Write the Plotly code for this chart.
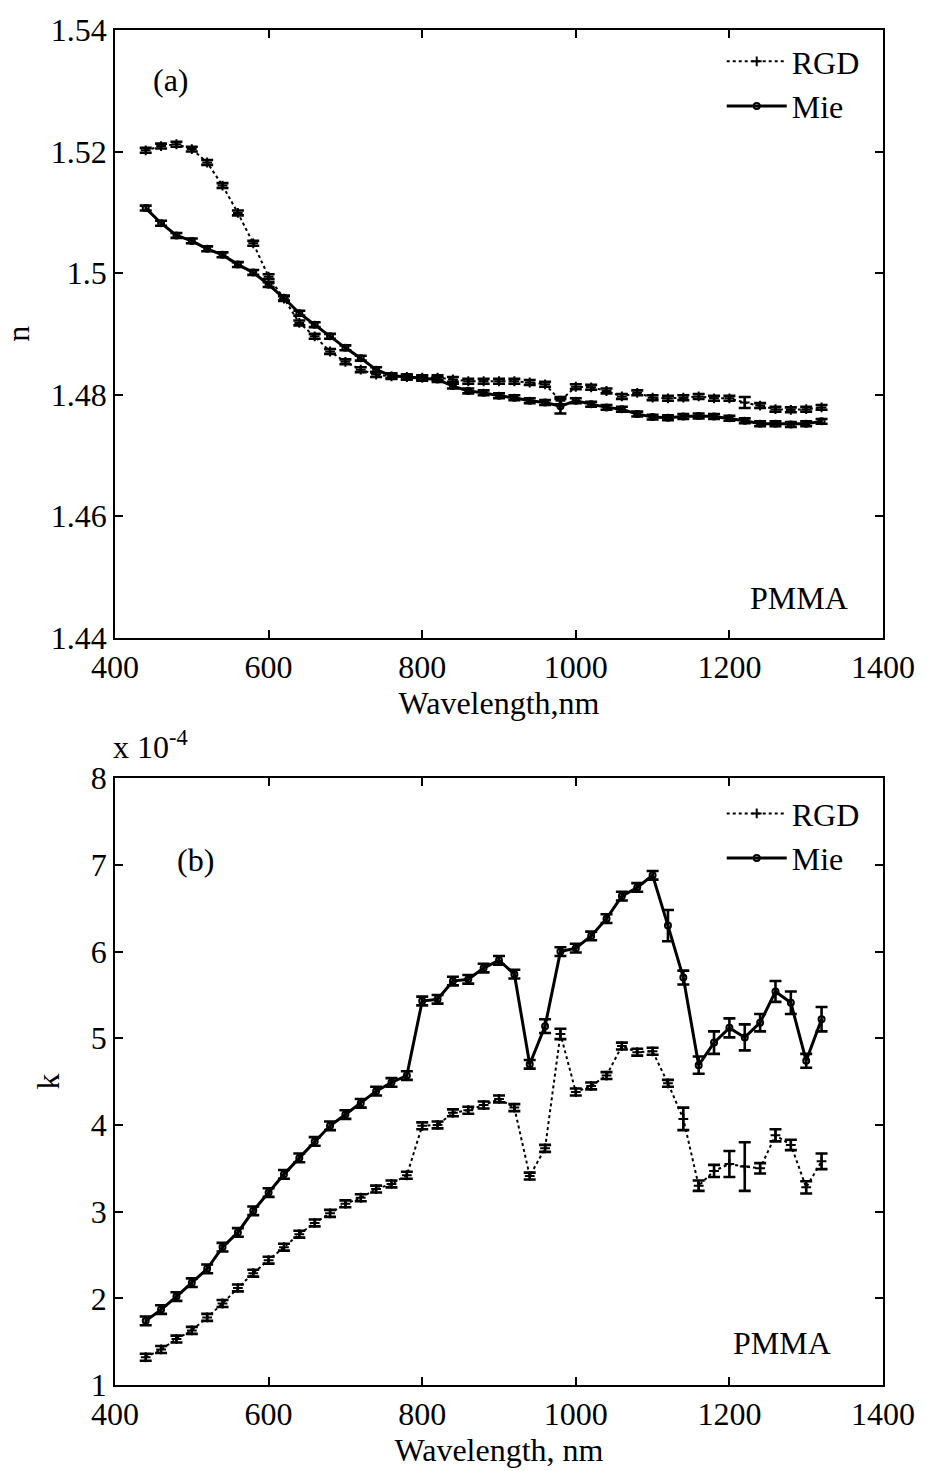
import plotly.graph_objects as go

wavelength = [440, 460, 480, 500, 520, 540, 560, 580, 600, 620, 640, 660, 680, 700, 720,
              740, 760, 780, 800, 820, 840, 860, 880, 900, 920, 940, 960, 980, 1000, 1020,
              1040, 1060, 1080, 1100, 1120, 1140, 1160, 1180, 1200, 1220, 1240, 1260, 1280, 1300, 1320]

n_rgd = [1.5202, 1.5209, 1.5212, 1.5204, 1.5182, 1.5144, 1.5099, 1.5049, 1.4994, 1.4958,
         1.4918, 1.4896, 1.4871, 1.4854, 1.4841, 1.4833, 1.4830, 1.4829, 1.4828, 1.4828,
         1.4825, 1.4822, 1.4822, 1.4822, 1.4822, 1.4820, 1.4817, 1.4790, 1.4813, 1.4812,
         1.4806, 1.4797, 1.4803, 1.4795, 1.4794, 1.4795, 1.4797, 1.4794, 1.4794, 1.4787,
         1.4782, 1.4776, 1.4775, 1.4776, 1.4779]
n_rgd_err = [0.0004] * 27 + [0.0006] + [0.0004] * 11 + [0.0009] + [0.0004] * 5

n_mie = [1.5107, 1.5082, 1.5062, 1.5053, 1.5040, 1.5030, 1.5014, 1.5001, 1.4981, 1.4959,
         1.4934, 1.4915, 1.4896, 1.4877, 1.4860, 1.4841, 1.4831, 1.4829, 1.4827, 1.4825,
         1.4814, 1.4806, 1.4803, 1.4798, 1.4795, 1.4790, 1.4787, 1.4781, 1.4790, 1.4784,
         1.4779, 1.4776, 1.4768, 1.4763, 1.4762, 1.4764, 1.4765, 1.4764, 1.4761, 1.4757,
         1.4752, 1.4752, 1.4751, 1.4752, 1.4756]
n_mie_err = [0.0004] * 27 + [0.0012] + [0.0004] * 17

k_rgd = [1.32, 1.41, 1.53, 1.63, 1.78, 1.94, 2.12, 2.29, 2.44, 2.59,
         2.74, 2.87, 2.98, 3.09, 3.16, 3.26, 3.32, 3.42, 3.99, 4.00,
         4.14, 4.17, 4.23, 4.30, 4.20, 3.41, 3.73, 5.05, 4.38, 4.45,
         4.57, 4.91, 4.84, 4.85, 4.48, 4.07, 3.30, 3.47, 3.55, 3.52,
         3.50, 3.88, 3.77, 3.28, 3.58]
k_rgd_err = [0.04] * 27 + [0.06] + [0.04] * 7 + [0.13, 0.06, 0.07, 0.15, 0.28, 0.06, 0.07, 0.06, 0.07, 0.09]

k_mie = [1.74, 1.87, 2.02, 2.18, 2.34, 2.59, 2.76, 3.01, 3.22, 3.43,
         3.62, 3.81, 3.99, 4.12, 4.25, 4.39, 4.49, 4.57, 5.43, 5.45,
         5.66, 5.68, 5.81, 5.90, 5.74, 4.70, 5.14, 6.00, 6.04, 6.18,
         6.38, 6.64, 6.74, 6.88, 6.30, 5.70, 4.69, 4.95, 5.12, 5.01,
         5.18, 5.54, 5.41, 4.74, 5.22]
k_mie_err = [0.05] * 26 + [0.08] + [0.05] * 7 + [0.18, 0.08, 0.10, 0.13, 0.11, 0.15, 0.10, 0.12, 0.13, 0.08, 0.14]

x_ticks = [400, 600, 800, 1000, 1200, 1400]
n_ticks = [1.44, 1.46, 1.48, 1.5, 1.52, 1.54]
n_tick_text = ["1.44", "1.46", "1.48", "1.5", "1.52", "1.54"]
k_ticks = [1, 2, 3, 4, 5, 6, 7, 8]

FONT = "Liberation Serif"
FS = 32

fig = go.Figure()


def add_series(x, y, err, name, xa, ya, dotted, legend):
    fig.add_trace(go.Scatter(
        x=x, y=y, name=name, mode="lines+markers",
        xaxis=xa, yaxis=ya, legend=legend,
        line=dict(color="black", width=2.0 if dotted else 3.0, dash="dot" if dotted else "solid"),
        marker=dict(symbol="cross-thin" if dotted else "circle-open", size=7 if dotted else 6,
                    color="black", line=dict(color="black", width=2)),
        error_y=dict(type="data", array=err, visible=True, color="black", thickness=2.6, width=6),
    ))


add_series(wavelength, n_rgd, n_rgd_err, "RGD", "x", "y", True, "legend")
add_series(wavelength, n_mie, n_mie_err, "Mie", "x", "y", False, "legend")
add_series(wavelength, k_rgd, k_rgd_err, "RGD", "x2", "y2", True, "legend2")
add_series(wavelength, k_mie, k_mie_err, "Mie", "x2", "y2", False, "legend2")

axis_common = dict(
    showline=True, linecolor="black", linewidth=1.5, mirror="ticks",
    ticks="inside", ticklen=8, tickwidth=1.5, tickcolor="black",
    showgrid=False, zeroline=False,
    tickfont=dict(family=FONT, size=FS, color="black"),
)

fig.update_layout(
    width=927, height=1471,
    margin=dict(l=113, r=34, t=22, b=80),
    paper_bgcolor="white", plot_bgcolor="white",
    font=dict(family=FONT, size=FS, color="black"),
    xaxis=dict(domain=[0, 1], range=[400, 1400], tickvals=x_ticks, anchor="y",
               title=dict(text="Wavelength,nm", font=dict(family=FONT, size=FS), standoff=4),
               **axis_common),
    yaxis=dict(domain=[0.5515, 1.0], range=[1.44, 1.54], tickvals=n_ticks, ticktext=n_tick_text,
               anchor="x",
               title=dict(text="n", font=dict(family=FONT, size=FS), standoff=16),
               **axis_common),
    xaxis2=dict(domain=[0, 1], range=[400, 1400], tickvals=x_ticks, anchor="y2",
                title=dict(text="Wavelength, nm", font=dict(family=FONT, size=FS), standoff=4),
                **axis_common),
    yaxis2=dict(domain=[0, 0.4478], range=[1, 8], tickvals=k_ticks, anchor="x2",
                title=dict(text="k", font=dict(family=FONT, size=FS), standoff=22),
                **axis_common),
    legend=dict(x=0.79, y=0.997, xanchor="left", yanchor="top", bgcolor="rgba(0,0,0,0)",
                font=dict(family=FONT, size=FS), itemwidth=60, tracegroupgap=0),
    legend2=dict(x=0.79, y=0.442, xanchor="left", yanchor="top", bgcolor="rgba(0,0,0,0)",
                 font=dict(family=FONT, size=FS), itemwidth=60, tracegroupgap=0),
    showlegend=True,
    annotations=[
        dict(text="(a)", xref="x domain", yref="y domain", x=0.073, y=0.917,
             xanchor="center", yanchor="middle", showarrow=False, font=dict(family=FONT, size=FS)),
        dict(text="PMMA", xref="x domain", yref="y domain", x=0.890, y=0.065,
             xanchor="center", yanchor="middle", showarrow=False, font=dict(family=FONT, size=FS)),
        dict(text="(b)", xref="x2 domain", yref="y2 domain", x=0.105, y=0.866,
             xanchor="center", yanchor="middle", showarrow=False, font=dict(family=FONT, size=FS)),
        dict(text="PMMA", xref="x2 domain", yref="y2 domain", x=0.868, y=0.070,
             xanchor="center", yanchor="middle", showarrow=False, font=dict(family=FONT, size=FS)),
        dict(text="x 10<sup>-4</sup>", xref="x2 domain", yref="y2 domain", x=-0.005, y=1.018,
             xanchor="left", yanchor="bottom", showarrow=False, font=dict(family=FONT, size=FS)),
    ],
)

fig.write_html("out.html")
